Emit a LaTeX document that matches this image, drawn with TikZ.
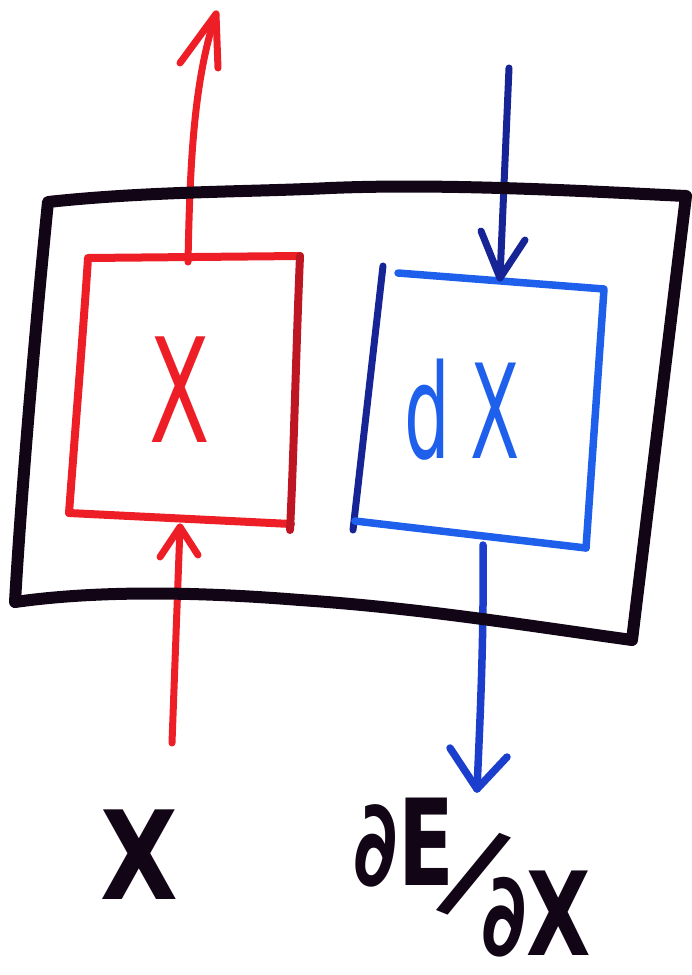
\documentclass[tikz,border=0pt]{standalone}
\usepackage{fontspec}
\setmainfont{DejaVu Sans}
\definecolor{penred}{RGB}{238,30,38}
\definecolor{penredd}{RGB}{190,22,34}
\definecolor{penblue}{RGB}{30,95,235}
\definecolor{pennavy}{RGB}{22,36,150}
\definecolor{penbluem}{RGB}{28,62,205}
\definecolor{penblack}{RGB}{18,6,22}
\begin{document}
\begin{tikzpicture}[x=1pt,y=-1pt,
  pen/.style={line width=#1,line cap=round,line join=round},
  outerline/.style={draw=penblack,pen=12pt},
  redline/.style={draw=penred,pen=8pt},
  redarrow/.style={draw=penred,pen=7pt},
  blueline/.style={draw=penblue,pen=7.5pt},
  navyline/.style={draw=pennavy,pen=7pt},
  thinlabel/.style={inner sep=0pt,font=\fontsize{145}{145}\selectfont},
  boldlabel/.style={inner sep=0pt,text=penblack,font=\bfseries\fontsize{123}{123}\selectfont}
]
\useasboundingbox (0,0) rectangle (692,975);

% ---- red box (X)
\coordinate (rTL) at (88,258);
\coordinate (rTR) at (300,256);
\coordinate (rBR) at (291,524);
\coordinate (rBL) at (69,513);
\draw[redline] (rBL) .. controls (76,420) and (84,320) .. (rTL) -- (rTR);
\draw[redline] (rBL) -- (rBR);
\draw[draw=penredd,pen=8pt] (rTR) .. controls (296,350) and (294,450) .. (290,530);
\node[thinlabel,text=penred,xscale=0.61] (xval) at (180,390) {X};

% ---- blue box (dX)
\coordinate (bTL) at (398,273);
\coordinate (bTR) at (604,289);
\coordinate (bBR) at (586,548);
\coordinate (bBL) at (355,521);
\draw[navyline] (383,266) -- (353,530);
\draw[blueline] (bTL) -- (bTR) -- (bBR);
\draw[blueline] (bBL) -- (bBR);
\node[thinlabel,text=penblue,xscale=0.55,font=\fontsize{131}{131}\selectfont] (dxval) at (462,410) {d\hspace{36pt}X};

% ---- red output arrow (up, top)
\coordinate (rOutS) at (188,262);
\coordinate (rOutT) at (216,14);
\draw[redarrow] (rOutS) .. controls (190,160) and (194,80) .. (rOutT);
\draw[redarrow] (180,63) -- (rOutT) -- (218,68);

% ---- red input arrow (up, bottom)
\coordinate (rInS) at (172,743);
\coordinate (rInT) at (180,527);
\draw[redarrow] (rInS) -- (rInT);
\draw[redarrow] (160,557) -- (rInT) -- (198,555);

% ---- blue input arrow (down, top)
\coordinate (bInS) at (509,68);
\coordinate (bInT) at (500,278);
\draw[navyline] (bInS) -- (bInT);
\draw[navyline] (481,231) -- (bInT) -- (525,240);

% ---- blue output arrow (down, bottom)
\coordinate (bOutS) at (483,545);
\coordinate (bOutT) at (477,789);
\draw[draw=penbluem,pen=7.5pt] (bOutS) .. controls (484,640) and (480,720) .. (bOutT);
\draw[draw=penbluem,pen=7.5pt] (450,748) -- (bOutT) -- (507,757);

% ---- outer black box
\draw[outerline] (48,202) .. controls (150,191) and (250,192) .. (330,188)
  .. controls (450,183) and (600,192) .. (686,196) -- (632,640)
  .. controls (530,626) and (420,608) .. (300,600)
  .. controls (200,592) and (100,590) .. (15,602)
  .. controls (22,480) and (38,300) .. (48,202) -- cycle;

% ---- bottom labels
\node[boldlabel,xscale=0.82] (xlab) at (139,855) {X};
\node[boldlabel,xscale=0.68,font=\bfseries\fontsize{120}{120}\selectfont] (dE) at (404,843) {∂E};
\node[boldlabel,rotate=-22,font=\bfseries\fontsize{116}{116}\selectfont] (slash) at (474,874) {/};
\node[boldlabel,xscale=0.72,font=\bfseries\fontsize{116}{116}\selectfont] (dX) at (536,914) {∂X};
\end{tikzpicture}
\end{document}
